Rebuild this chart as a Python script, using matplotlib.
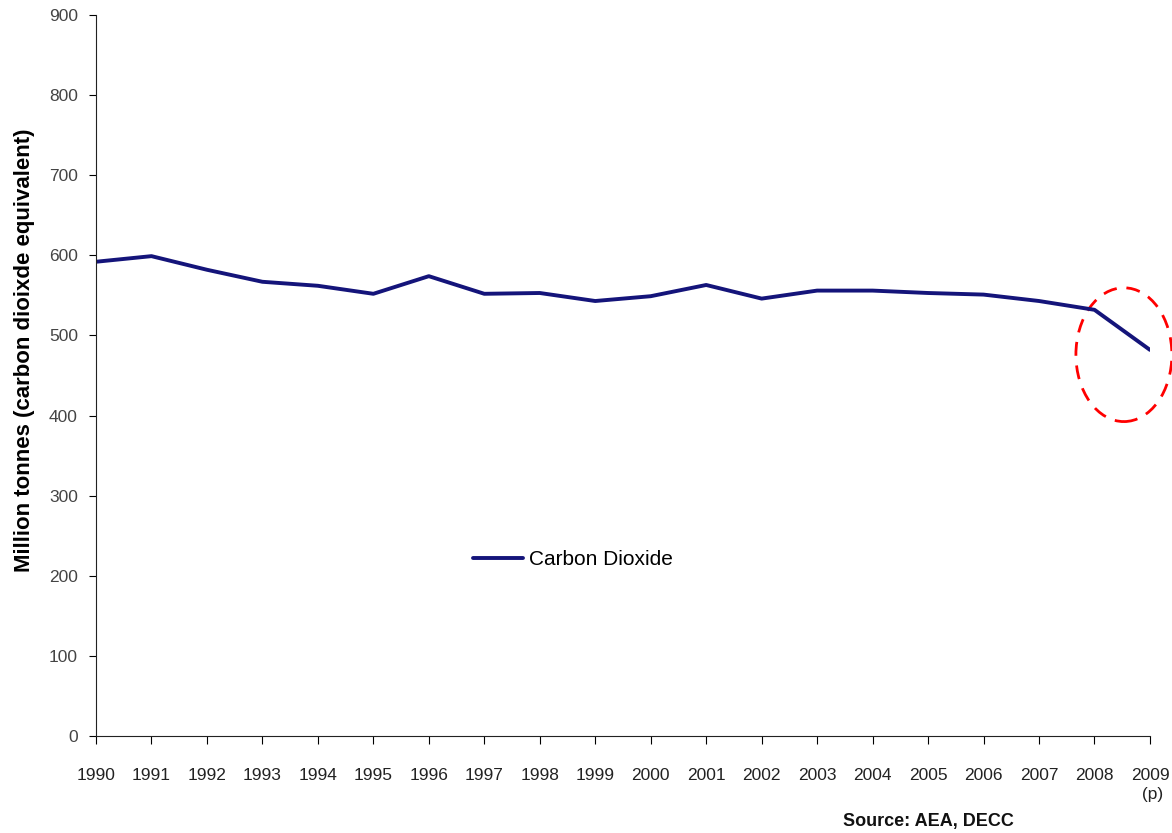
import matplotlib.pyplot as plt
from matplotlib.patches import Ellipse

plt.rcParams['font.family'] = ['Liberation Sans', 'DejaVu Sans']

years = list(range(1990, 2010))
co2 = [592, 599, 582, 567, 562, 552, 574, 552, 553, 543,
       549, 563, 546, 556, 556, 553, 551, 543, 532, 482]
year_labels = [str(y) for y in years[:-1]] + ['2009\n (p)']

fig = plt.figure(figsize=(11.72, 8.33), dpi=100)
ax = fig.add_axes([0.0819, 0.1164, 0.8993, 0.8656])

ax.plot(years, co2, color='#14147a', linewidth=2.8, label='Carbon Dioxide',
        solid_joinstyle='round', solid_capstyle='round')

ax.set_xlim(1990, 2009)
ax.set_ylim(0, 900)
ax.set_yticks(range(0, 901, 100))
ax.set_xticks(years)
ax.set_xticklabels(year_labels, linespacing=1.3)

for s in ['top', 'right']:
    ax.spines[s].set_visible(False)
ax.spines['left'].set_color('#222222')
ax.spines['bottom'].set_color('#222222')
ax.tick_params(axis='x', length=6, pad=17, labelsize=12.5, labelcolor='#222222')
ax.tick_params(axis='y', length=5, pad=8, labelsize=12.5, labelcolor='#444444')

ax.set_ylabel('Million tonnes (carbon dioixde equivalent)', fontsize=16,
              fontweight='bold')
ax.yaxis.set_label_coords(-0.0575, 0.535)

# red dashed ellipse highlighting the 2009 drop
ell = Ellipse((2008.53, 476), width=1.73, height=167, fill=False,
              edgecolor='red', linestyle=(0, (5, 3.5)), linewidth=2,
              clip_on=False)
ax.add_patch(ell)

ax.legend(loc='center left', bbox_to_anchor=(0.34, 0.245), frameon=False,
          fontsize=15, handlelength=2.4, handletextpad=0.3)

fig.text(0.792, 0.004, 'Source: AEA, DECC', fontsize=13, fontweight='bold',
         ha='center', va='bottom', color='#111111')

fig.savefig('out.png', dpi=100)
